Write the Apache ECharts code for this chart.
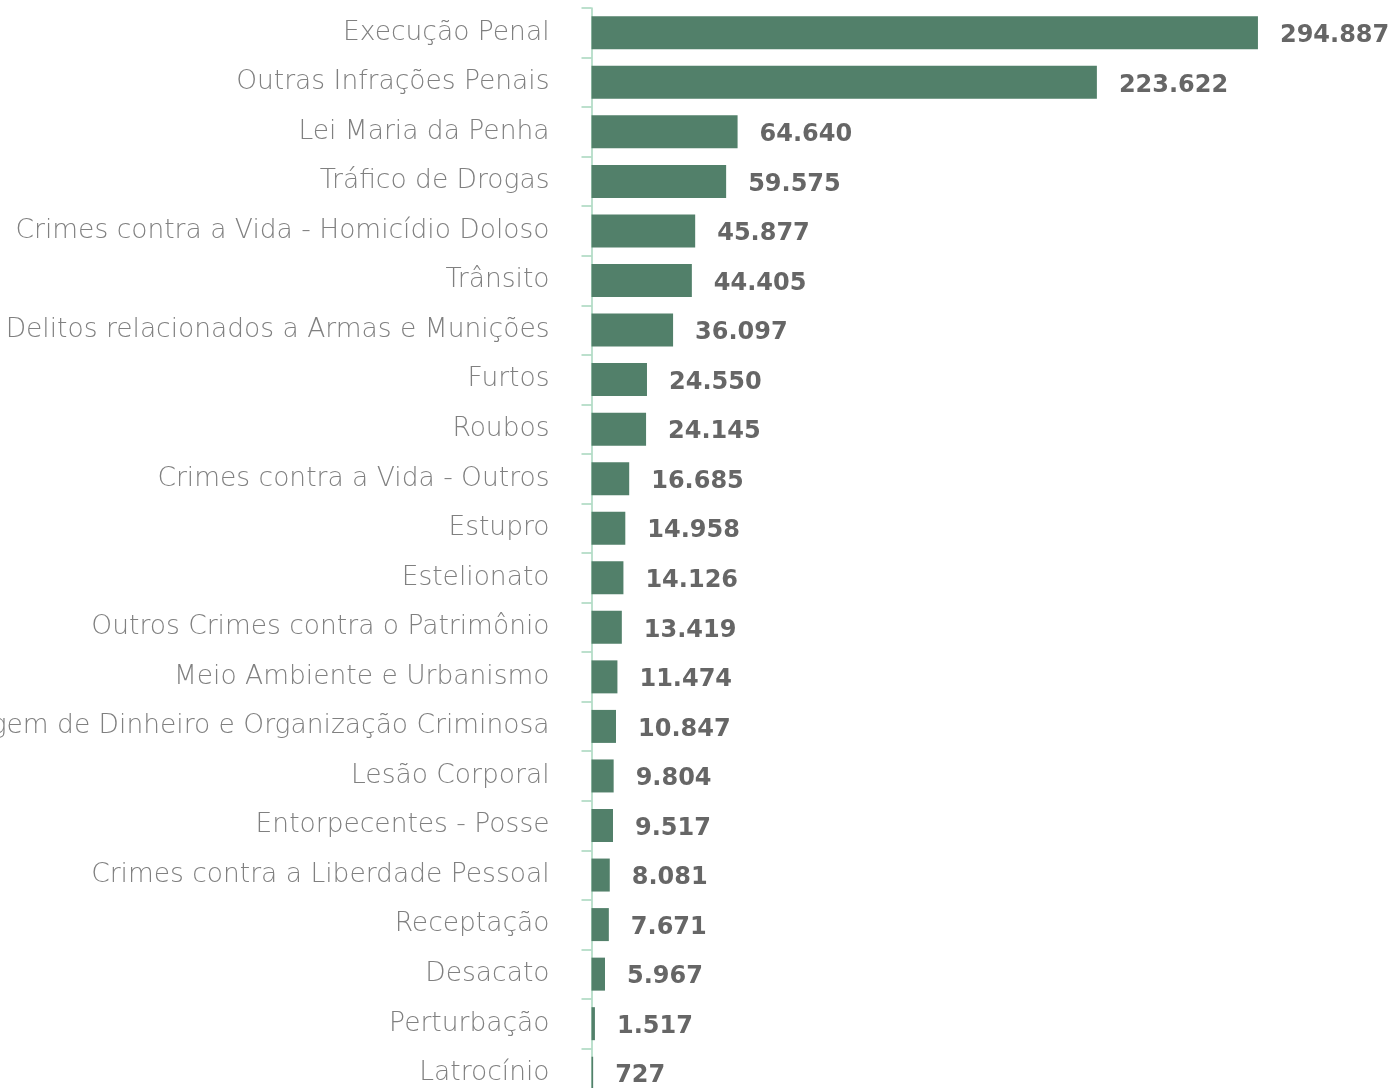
<!DOCTYPE html>
<html>
<head>
<meta charset="utf-8">
<script src="https://cdn.jsdelivr.net/npm/echarts@6/dist/echarts.min.js"></script>
<style>
  html, body { margin: 0; padding: 0; background: #ffffff; }
  #chart { width: 1396px; height: 1088px; }
</style>
</head>
<body>
<div id="chart"></div>
<script>
// Crime categories, listed top to bottom
const categories = [
  'Execução Penal',
  'Outras Infrações Penais',
  'Lei Maria da Penha',
  'Tráfico de Drogas',
  'Crimes contra a Vida - Homicídio Doloso',
  'Trânsito',
  'Delitos relacionados a Armas e Munições',
  'Furtos',
  'Roubos',
  'Crimes contra a Vida - Outros',
  'Estupro',
  'Estelionato',
  'Outros Crimes contra o Patrimônio',
  'Meio Ambiente e Urbanismo',
  'Lavagem de Dinheiro e Organização Criminosa',
  'Lesão Corporal',
  'Entorpecentes - Posse',
  'Crimes contra a Liberdade Pessoal',
  'Receptação',
  'Desacato',
  'Perturbação',
  'Latrocínio'
];

// Number of cases per category
const values = [
  294887, 223622, 64640, 59575, 45877, 44405, 36097, 24550, 24145, 16685,
  14958, 14126, 13419, 11474, 10847, 9804, 9517, 8081, 7671, 5967, 1517, 727
];

// Thousands separator in pt-BR style (e.g. 294.887)
function formatBR(n) {
  return String(n).replace(/\B(?=(\d{3})+(?!\d))/g, '.');
}

const chart = echarts.init(document.getElementById('chart'), null, { renderer: 'canvas' });

chart.setOption({
  animation: false,
  backgroundColor: '#ffffff',
  grid: {
    left: 591.5,
    top: 8,
    right: 13.5,
    bottom: -10,
    containLabel: false,
    outerBoundsMode: 'none'
  },
  xAxis: {
    type: 'value',
    min: 0,
    max: 350000,
    show: false
  },
  yAxis: {
    type: 'category',
    data: categories,
    inverse: true,
    axisLine: { show: true, lineStyle: { color: '#a6d6bd', width: 1.5 } },
    axisTick: { show: true, length: 10, lineStyle: { color: '#a6d6bd', width: 1.5 } },
    axisLabel: {
      margin: 42,
      color: '#808080',
      fontFamily: 'DejaVu Sans',
      fontWeight: 200,
      fontSize: 26.5,
      padding: [4, 0, 0, 0]
    },
    splitLine: { show: false }
  },
  series: [{
    type: 'bar',
    data: values,
    barWidth: 33,
    itemStyle: { color: '#52806a' },
    label: {
      show: true,
      position: 'right',
      distance: 22,
      color: '#666666',
      fontFamily: 'DejaVu Sans',
      fontWeight: 'bold',
      fontSize: 24,
      offset: [0, 3],
      formatter: p => formatBR(p.value)
    }
  }]
});
</script>
</body>
</html>
